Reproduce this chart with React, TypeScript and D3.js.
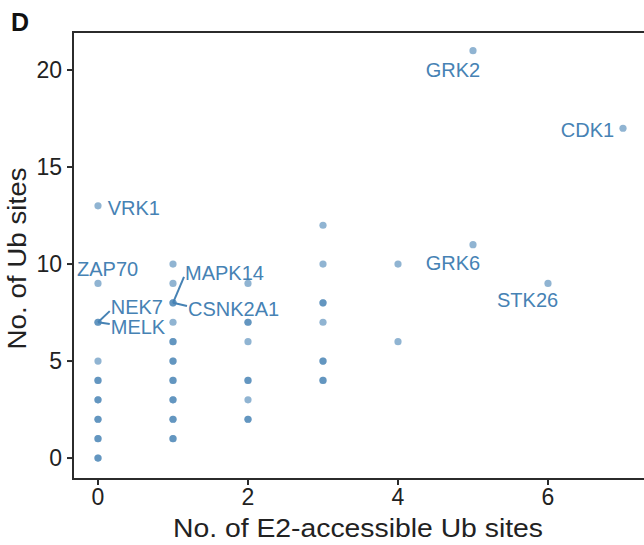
import React, { useEffect, useRef } from "react";
import * as d3 from "d3";

// total Ub sites for kinases grouped by E2-accessible sites; repeats overlap
const e2Sites = [0, 1, 2, 3, 4, 5, 6, 7];
const ubAt0 = [13, 9, 7, 7, 5, 4, 4, 3, 3, 2, 2, 1, 1, 0, 0];
const ubAt1 = [10, 9, 8, 8, 7, 6, 6, 5, 5, 4, 4, 3, 3, 2, 2, 1, 1];
const ubAt2 = [9, 7, 7, 6, 4, 4, 3, 2, 2];
const ubAt3 = [12, 10, 8, 8, 7, 5, 5, 4, 4];
const ubAt4 = [10, 6];
const ubAt5 = [21, 11];
const ubAt6 = [9];
const ubAt7 = [17];
const ubSites = [ubAt0, ubAt1, ubAt2, ubAt3, ubAt4, ubAt5, ubAt6, ubAt7];

const labelNames = ["VRK1", "ZAP70", "NEK7", "MELK", "MAPK14", "CSNK2A1", "GRK2", "CDK1", "GRK6", "STK26"];
const labelPx = [0, 0, 0, 0, 1, 1, 5, 7, 5, 6];
const labelPy = [13, 9, 7, 7, 8, 8, 21, 17, 11, 9];
const labelLx = [0.13, -0.28, 0.17, 0.17, 1.16, 1.2, 4.37, 6.17, 4.37, 5.32];
const labelLy = [12.9, 9.74, 7.78, 6.75, 9.54, 7.68, 20.0, 16.9, 10.05, 8.14];
const labelSeg = [false, false, true, true, true, true, false, false, false, false];

const xTicks = [0, 2, 4, 6];
const yTicks = [0, 5, 10, 15, 20];

export default function App() {
  const ref = useRef<SVGSVGElement>(null);

  useEffect(() => {
    const W = 644, H = 545;
    const m = { left: 73, top: 32, right: 0, bottom: 66 };
    const svg = d3.select(ref.current);
    svg.selectAll("*").remove();

    const x = d3.scaleLinear().domain([-1 / 3, 7.28]).range([m.left, W - m.right]);
    const y = d3.scaleLinear().domain([-1.08, 21.96]).range([H - m.bottom, m.top]);
    const ink = "#2b2b2b";
    const blue = "#4682B4";
    const font = "Liberation Sans, Arial, sans-serif";

    svg.append("text").attr("x", 11).attr("y", 31).text("D")
      .attr("font-family", font).attr("font-weight", "bold").attr("font-size", 25).attr("fill", "#111");

    // panel border (top + left + bottom)
    svg.append("path")
      .attr("d", `M${W + 2},${m.top}H${m.left}V${H - m.bottom}H${W + 2}`)
      .attr("fill", "none").attr("stroke", ink).attr("stroke-width", 2);

    const axisText = (sel: any) => sel.attr("font-family", font).attr("fill", "#222");

    xTicks.forEach(t => {
      svg.append("line").attr("x1", x(t)).attr("x2", x(t))
        .attr("y1", H - m.bottom).attr("y2", H - m.bottom + 6)
        .attr("stroke", ink).attr("stroke-width", 2);
      axisText(svg.append("text").attr("x", x(t)).attr("y", H - m.bottom + 26)
        .attr("text-anchor", "middle").attr("font-size", 23).text(t));
    });
    yTicks.forEach(t => {
      svg.append("line").attr("x1", m.left - 6).attr("x2", m.left)
        .attr("y1", y(t)).attr("y2", y(t))
        .attr("stroke", ink).attr("stroke-width", 2);
      axisText(svg.append("text").attr("x", m.left - 11).attr("y", y(t))
        .attr("dy", "0.36em").attr("text-anchor", "end").attr("font-size", 23).text(t));
    });

    axisText(svg.append("text").attr("x", 358).attr("y", 537)
      .attr("text-anchor", "middle").attr("font-size", 26)
      .attr("textLength", 370).attr("lengthAdjust", "spacingAndGlyphs")
      .text("No. of E2-accessible Ub sites"));
    axisText(svg.append("text")
      .attr("transform", `translate(26,${(m.top + H - m.bottom) / 2 + 3}) rotate(-90)`)
      .attr("text-anchor", "middle").attr("font-size", 25)
      .attr("textLength", 182).attr("lengthAdjust", "spacingAndGlyphs")
      .text("No. of Ub sites"));

    const pts: [number, number][] = [];
    e2Sites.forEach((e, i) => ubSites[i].forEach(u => pts.push([e, u])));

    svg.append("g").selectAll("circle")
      .data(pts)
      .join("circle")
      .attr("cx", d => x(d[0])).attr("cy", d => y(d[1]))
      .attr("r", 3.6).attr("fill", blue).attr("fill-opacity", 0.6);

    const lab = svg.append("g");
    labelNames.forEach((name, i) => {
      const t = lab.append("text").attr("x", x(labelLx[i])).attr("y", y(labelLy[i]))
        .attr("dy", "0.36em").attr("font-family", font).attr("font-size", 20)
        .attr("fill", blue).text(name);
      if (labelSeg[i]) {
        const bb = (t.node() as SVGTextElement).getBBox();
        const px = x(labelPx[i]), py = y(labelPy[i]);
        const cy = y(labelLy[i]);
        const ey = Math.max(cy - 3, Math.min(cy + 4, py));
        lab.append("line").attr("x1", px).attr("y1", py)
          .attr("x2", bb.x - 1).attr("y2", ey)
          .attr("stroke", blue).attr("stroke-width", 2);
      }
    });
  }, []);

  return (
    <svg ref={ref} width={644} height={545}
      style={{ position: "absolute", left: 0, top: 0, background: "#fff" }} />
  );
}
